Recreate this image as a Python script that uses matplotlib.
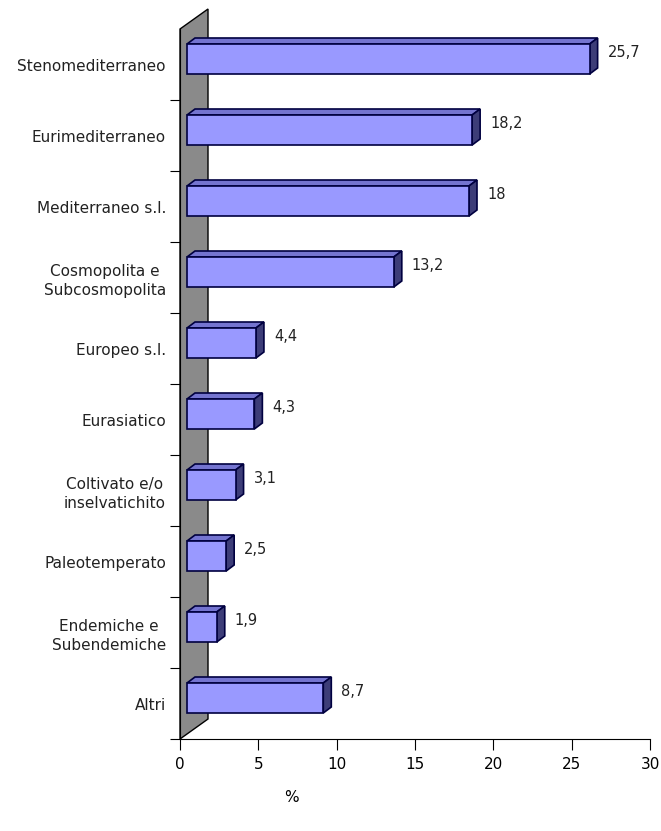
import matplotlib
matplotlib.use("Agg")
import matplotlib.pyplot as plt
from matplotlib.patches import Polygon
import numpy as np

# data, top to bottom as in the chart
categories = ['Stenomediterraneo', 'Eurimediterraneo', 'Mediterraneo s.l.',
              'Cosmopolita e\nSubcosmopolita', 'Europeo s.l.', 'Eurasiatico',
              'Coltivato e/o\ninselvatichito', 'Paleotemperato',
              'Endemiche e\nSubendemiche', 'Altri']
values = [25.7, 18.2, 18, 13.2, 4.4, 4.3, 3.1, 2.5, 1.9, 8.7]
value_labels = ['25,7', '18,2', '18', '13,2', '4,4', '4,3', '3,1', '2,5', '1,9', '8,7']
x_ticks = [0, 5, 10, 15, 20, 25, 30]

W, H = 661, 831
fig = plt.figure(figsize=(W / 100, H / 100), dpi=100)
ax = fig.add_axes([180 / W, 1 - 739 / H, 470 / W, 710 / H])
ax.set_xlim(0, 30)
ax.set_ylim(-0.5, len(categories) - 0.5)

# pixel -> data unit helpers
px_x = 30 / 470
px_y = 1 / 71

# back wall (gray parallelogram)
wdx, wdy = 28 * px_x, 20 * px_y
y0, y1 = -0.5, len(categories) - 0.5
wall = Polygon([(0, y0), (0, y1), (wdx, y1 + wdy), (wdx, y0 + wdy)],
               closed=True, facecolor='#8a8a8a', edgecolor='black', lw=1.0,
               clip_on=False, zorder=1)
ax.add_patch(wall)

ypos = np.arange(len(categories))[::-1]
bar_h = 30 * px_y
off_x, off_y = 7 * px_x, 5.5 * px_y
ddx, ddy = 8 * px_x, 6 * px_y

for y, v, lab in zip(ypos, values, value_labels):
    left = off_x
    right = off_x + v
    yc = y + off_y
    yb, yt = yc - bar_h / 2, yc + bar_h / 2
    # top face
    ax.add_patch(Polygon([(left, yt), (right, yt), (right + ddx, yt + ddy), (left + ddx, yt + ddy)],
                         closed=True, facecolor='#7474d0', edgecolor='#000040', lw=1.2,
                         clip_on=False, zorder=3))
    # side face
    ax.add_patch(Polygon([(right, yb), (right + ddx, yb + ddy), (right + ddx, yt + ddy), (right, yt)],
                         closed=True, facecolor='#3d3d78', edgecolor='#000040', lw=1.2,
                         clip_on=False, zorder=3))
    ax.barh(yc, v, left=left, height=bar_h, color='#9999ff', edgecolor='#000040',
            lw=1.2, zorder=4)
    ax.text(right + 18 * px_x, y + 12 * px_y, lab, fontsize=10.5, color='#222222',
            ha='left', va='center')

# axes styling
for s in ['top', 'right']:
    ax.spines[s].set_visible(False)
ax.spines['left'].set_zorder(2)
ax.set_xticks(x_ticks)
ax.set_xticklabels([str(t) for t in x_ticks], fontsize=11)
ax.set_yticks(np.arange(len(categories)) - 0.5, minor=False)
ax.set_yticklabels([])
ax.set_yticks(ypos, minor=True)
ax.set_yticklabels(categories, minor=True, fontsize=11, color='#222222',
                   multialignment='center', linespacing=1.35)
ax.tick_params(axis='y', which='minor', length=0, pad=0)
ax.tick_params(axis='y', which='major', length=7, direction='out')
ax.tick_params(axis='x', length=8, direction='out', pad=5)
for t in ax.get_yticklabels(minor=True):
    t.set_horizontalalignment('right')
    t.set_x(-14 / 470)

fig.text(291 / W, 1 - 797 / H, '%', fontsize=11, ha='center', va='center')

fig.savefig('out.png', dpi=100)
